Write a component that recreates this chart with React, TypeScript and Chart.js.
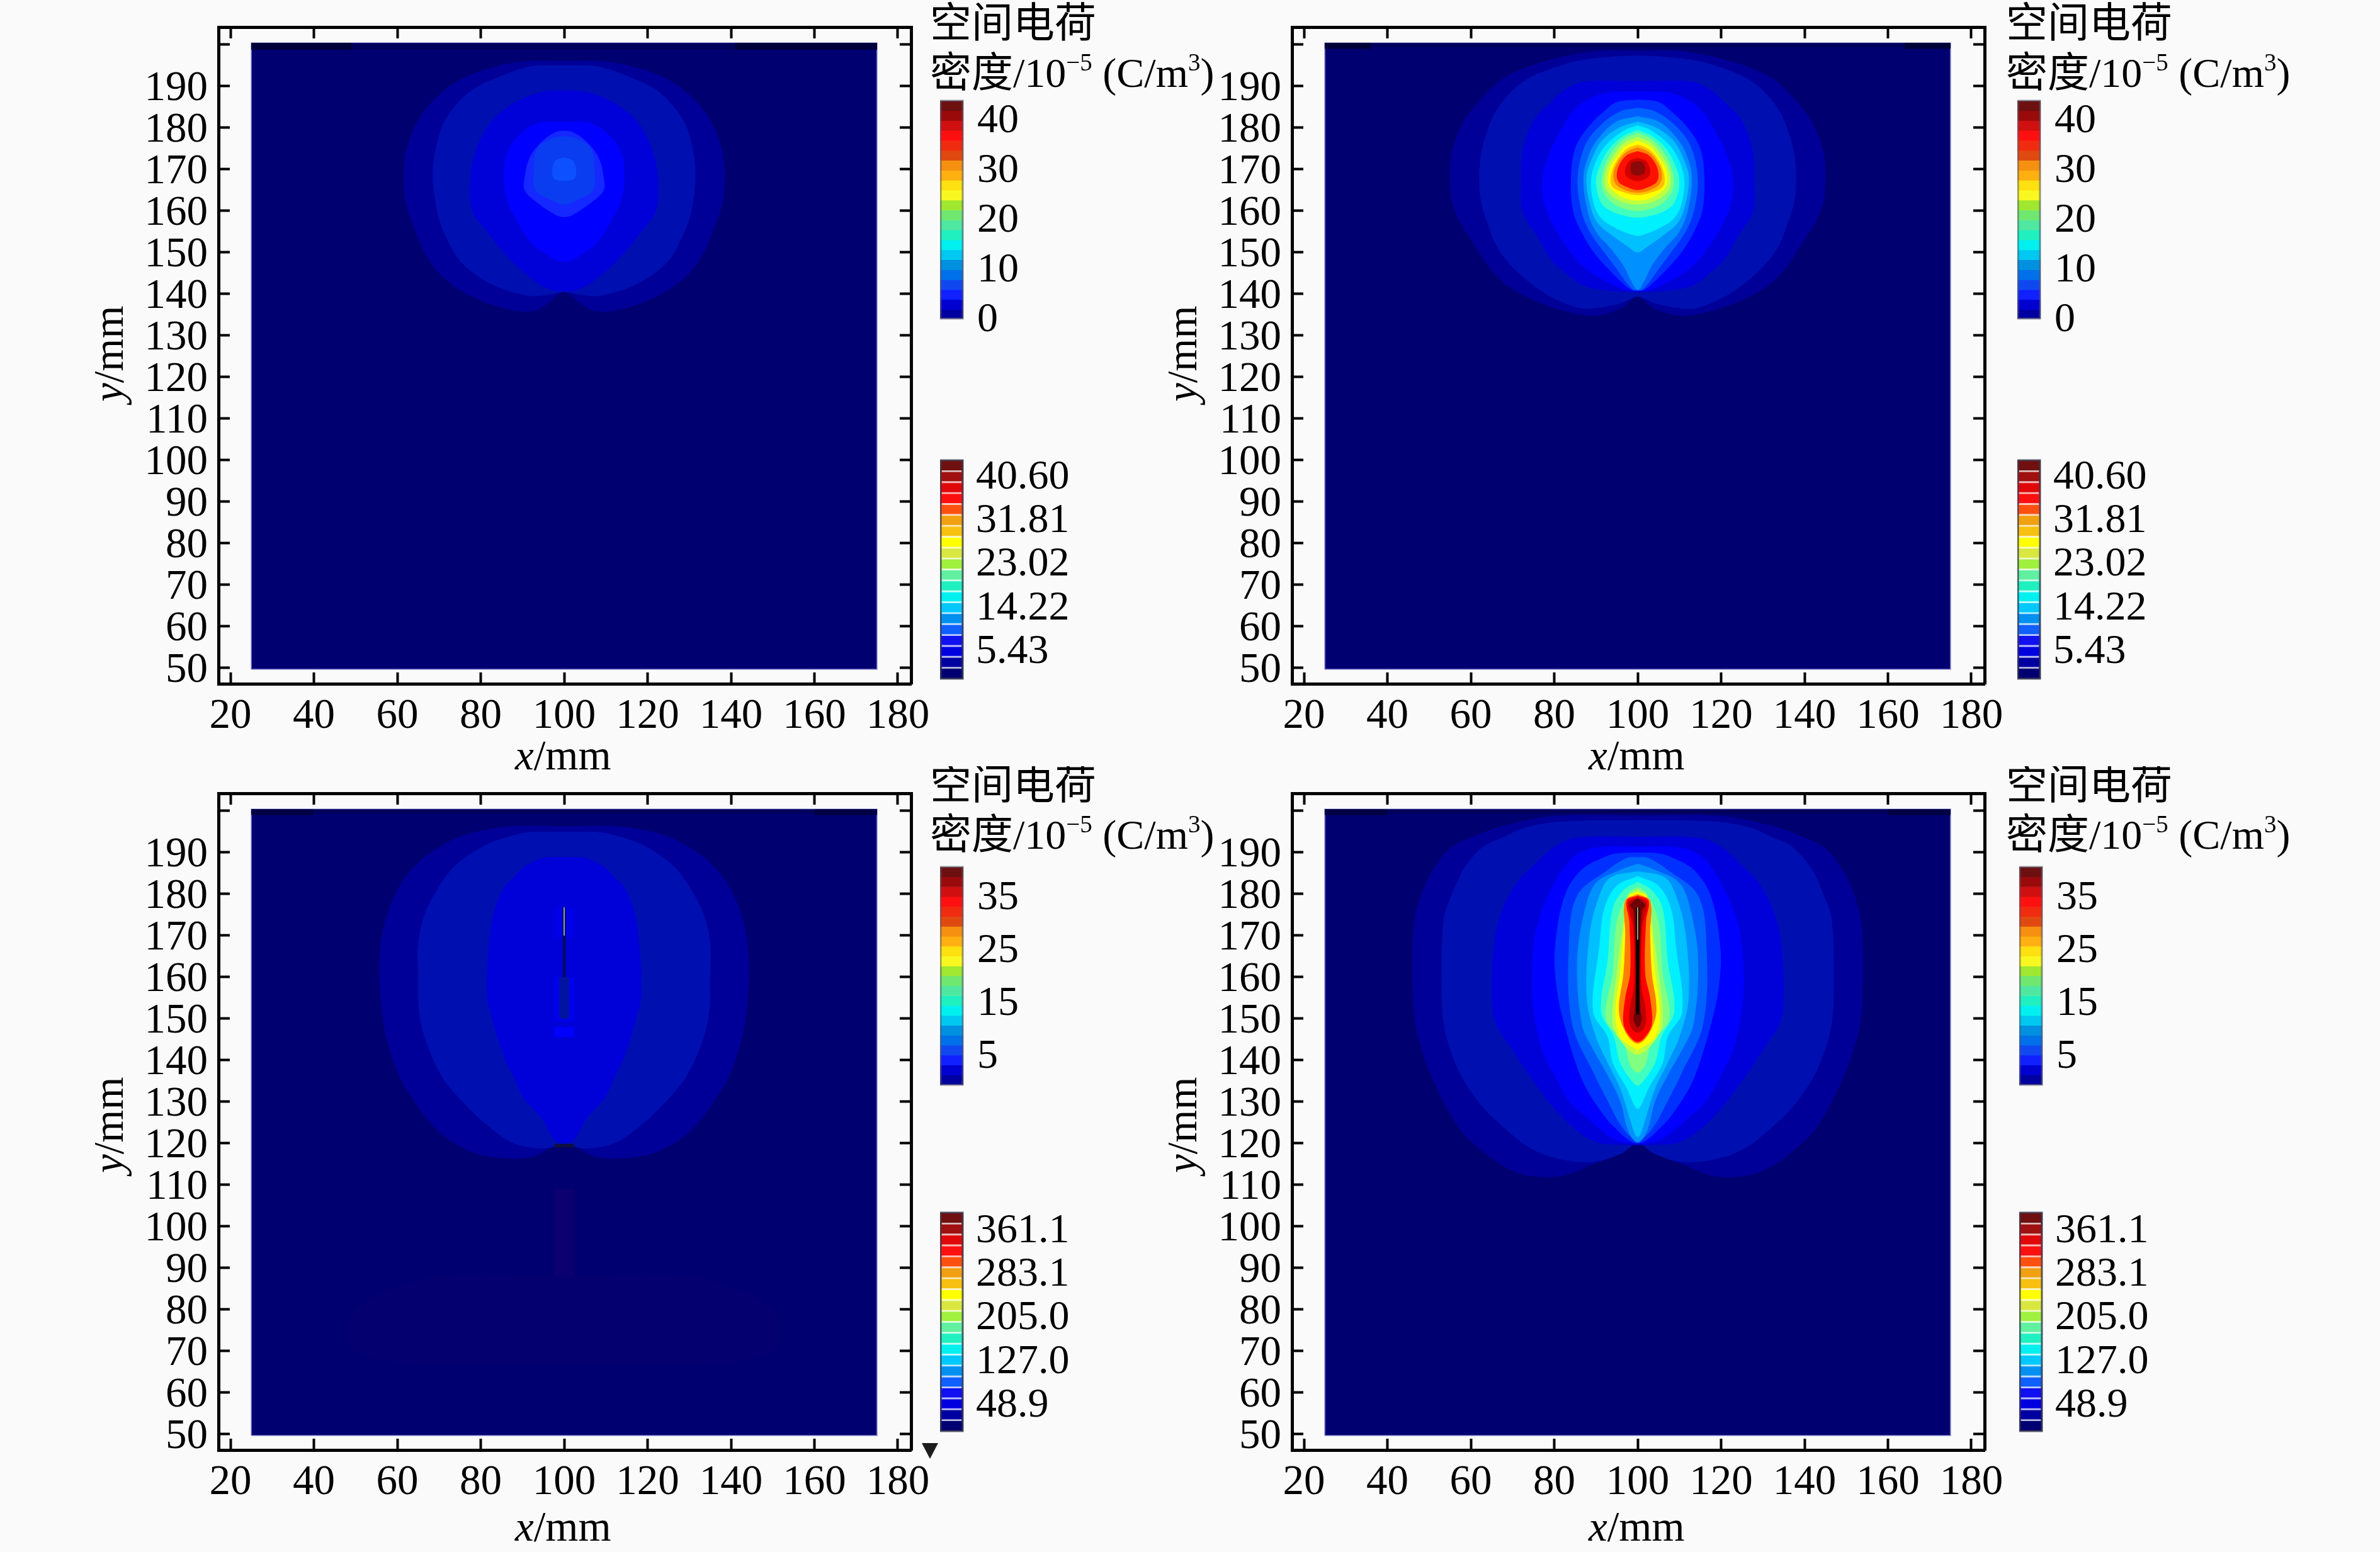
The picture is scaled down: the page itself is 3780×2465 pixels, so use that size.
import React, { useEffect, useRef } from "react";
import { Chart, registerables } from "chart.js";

Chart.register(...registerables);

type Ring = number[][];
const BG = "#fafafa";
const SERIF = '"Liberation Serif", "Times New Roman", serif';
const CJK = '"Liberation Serif", "Noto Sans CJK SC", serif';

const xTickValues = [20, 40, 60, 80, 100, 120, 140, 160, 180];
const yTickValues = [50, 60, 70, 80, 90, 100, 110, 120, 130, 140, 150, 160, 170, 180, 190, 200];
const yHiddenLabels = [200];
const fieldExtent = [25, 175, 49.7, 200.4];

// Contours: rows of [y mm, half width about x = 100 mm], top to bottom, outermost first.
const coolColors = ["#000098", "#000fb0", "#0000d8", "#0000ff"];

const p1Rings: Ring[] = [
  [[196.1,0],[196,10],[194,19],[191,26],[186,32],[181,35.5],[174,38],[168,38.5],[162,38],[156,36],[150,33.5],[145,30],[141,25],[138,19],[136,12],[136,7],[138,3.5],[140.5,0]],
  [[195,0],[194.8,8],[192.5,15],[189.5,21.5],[186,25.5],[181,29],[174,31],[168,31.5],[163,31],[158,30],[152,27.5],[148,25],[144.5,21],[141.5,15.5],[139.5,8],[140,3],[140.5,0]],
  [[189,0],[188.7,5],[186,12],[181.5,17.5],[175,21],[168,22.5],[160,22],[155,18.5],[150,14.5],[145.5,10],[141.5,4.5],[140.6,0]],
  [[181.5,0],[181.3,6],[179,10],[174.5,13.5],[168,14.5],[162,13.5],[157,11],[153,8.5],[150,5],[147.7,0]],
  [[179.3,0],[179,2],[177,5],[173,8.2],[168,9.5],[165,9.5],[162,6.5],[159,2],[158.5,0]],
  [[178,0],[177.5,3],[175,6.5],[170,7.3],[165,7],[162.8,3.5],[161.5,0]],
  [[173,0],[171.8,2.4],[168,2.6],[167.2,0]],
];
const p1Colors = [...coolColors, "#1428ff", "#0a3cf0", "#0c50ff"];

const p2Rings: Ring[] = [
  [[198.6,0],[198.4,11],[196.1,22],[193.6,29],[191,33.5],[186.5,38],[181,42],[174.5,44.5],[168,45],[162,44.5],[157,42.5],[152.7,39.7],[147.6,36.5],[143,32.5],[140,28],[137.5,22.5],[135.5,16],[134.8,10],[136.5,4],[139.3,0]],
  [[197.4,0],[197.2,5],[196.2,14],[194.5,20],[192,26],[189,30],[184,34],[179.4,36],[174,37.5],[168,38],[162,37.5],[157,36],[151,33.5],[146,29.5],[141,23.5],[138,18],[136.5,13],[137.5,5],[139.3,0.5],[139.4,0]],
  [[191.3,0],[191.1,13],[188.8,18],[186.5,20.5],[181.7,25],[174.4,27.6],[167,28],[159.8,27.6],[153.7,24],[148.6,21],[145.6,18],[142,13],[140.7,6],[140.5,0]],
  [[188.8,0],[188.6,7],[186.5,12.5],[184,15.5],[179.4,18.5],[174.4,21],[168,22.8],[162,22.5],[156,20],[152,17.5],[148,14.5],[145,11],[142.5,6.5],[141,3],[140.7,0]],
  [[186.8,0],[186.2,5],[184,8],[180,12],[175,15],[168,16],[160,15.5],[155,13.5],[150,10.5],[146,7],[142.5,3.5],[141,1.5],[140.8,0]],
  [[184.8,0],[184,4],[181,8.5],[176,12.5],[168,14.4],[160,13.5],[155,11.5],[150,8],[146,5],[142.5,2.5],[141,1],[140.9,0]],
  [[182.8,0],[181.5,5],[178,9],[174,11.5],[168,13],[160,12],[155,10],[151,6.5],[147,3.5],[143,1.5],[141,0]],
  [[181.5,0],[180,4.5],[177,8.5],[173,10.8],[168,12.3],[161,11.3],[157,9.5],[154,6],[151.5,2.5],[150,0]],
  [[180.6,0],[179.5,3],[176,7.5],[172,10],[167,11.2],[161,10.3],[158,8.5],[156,5.5],[154.5,2],[154,0]],
  [[179.5,0],[178,3.5],[175,6.8],[171,9],[167,10],[162,8.8],[160,6.5],[158.8,3],[158.4,0]],
  [[178.8,0],[177.5,3],[174.5,6],[170,8.2],[166,8.6],[163,7.2],[161,4.5],[160,0]],
  [[177.8,0],[176.5,3],[174,5.3],[170,7.5],[166,7.8],[163.5,6],[162,3.2],[161.5,0]],
  [[176.9,0],[175.5,3],[173,5],[170,6.8],[166.5,7],[164.5,5.5],[163,3],[162.5,0]],
  [[176,0],[175,2.5],[172.5,4.8],[169,6.3],[166,6.2],[164.5,3.5],[163.8,0]],
  [[175.3,0],[174.3,2.5],[172,4.6],[169,5.8],[166.5,5.3],[165,3],[164.4,0]],
  [[174.4,0],[173.5,2.5],[171.5,4.2],[169,5],[167,4.6],[165.7,2.5],[165,0]],
  [[172.8,0],[172,2],[170,3],[168.5,2.8],[167.5,1.5],[167.2,0]],
  [[172,0],[171.5,1.4],[170,1.7],[169,1.5],[168.5,0]],
];
const hotColors = ["#0030ff","#0060ff","#0090ff","#00c0ff","#00f0ff","#40ffc0","#80ff80","#c0ff40","#ffff00","#ffc000","#ff8000","#ff1000","#d00000","#8a0a0a"];
const p2Colors = [...coolColors, ...hotColors];

const p3Rings: Ring[] = [
  [[88,0],[88,30],[80,50],[70,50],[67,30],[67,0]],
  [[196.3,0],[196.2,14],[193.8,25],[190,32],[186,36.5],[181,40],[175,42.5],[168,44],[160,44.3],[150,43.5],[143,42],[136,39.5],[131,36.5],[126,33],[121.5,28.5],[118.5,23.5],[116.8,18],[116.6,8],[119,3],[120,0]],
  [[195,0],[194.8,9],[192.6,17],[190,22],[186.4,26.6],[181,30.5],[175,33.5],[168,35],[160,35],[152,34.8],[145.6,33.5],[136.4,29.5],[130.2,24.5],[124,18],[120,12],[118.8,5],[119.7,0]],
  [[188.9,0],[188.7,5],[186.4,9.8],[184,12],[181.5,14.5],[175,17],[168,18],[156,18.5],[150,17.3],[141,14.5],[135.7,12],[131,9.8],[128.3,7.4],[125.5,5],[120.9,2.4],[120,0]],
];
const p3Colors = ["#050070", "#000098", "#000fb0", "#0000d8"];

const p4Rings: Ring[] = [
  [[199,0],[198.8,20],[196.5,32],[194,39],[191,45],[186,49],[181,51.5],[174,53.5],[165,54],[150,53.5],[140,51],[134,48.5],[128,45.5],[122,41.5],[118,37],[115,33],[112.5,27.5],[112,19],[115,10.5],[116.8,6],[119,2.5],[120,0]],
  [[197.8,0],[197.5,18],[196,27],[193.8,32],[191.4,37],[186.4,41.5],[180,44.5],[174,46.5],[160,47],[148.7,46.5],[140,44],[134,41],[128,36.5],[122,30],[119,26],[116.5,20],[115.5,11],[117.5,4],[119.8,0.8],[119.9,0]],
  [[193.8,0],[193.5,15],[191.4,20],[186.4,25.5],[182,29.5],[174.7,33],[167.3,34.5],[155,35],[148.7,34],[143.2,30.5],[136.4,26],[130.2,21.5],[124,15.7],[120.3,10],[119.6,3],[119.6,0]],
  [[191.4,0],[191.2,10],[188.9,15.5],[182.7,20],[174.7,23.5],[167.3,25],[155,25.3],[142.6,23],[136.4,20],[130.2,16.5],[126.5,12.6],[121,5.7],[120,0]],
  [[190,0],[189.8,4.9],[188.9,8],[185.8,13.5],[179.6,17.5],[167.3,19.8],[158,19.5],[148.7,17.6],[136.4,13.8],[130.2,10.5],[124,5.7],[120,0]],
  [[188.9,0],[188.7,2.5],[185.8,7.2],[179.6,14.5],[167.3,16.5],[148.7,15.7],[136.4,10.3],[130.2,7.2],[124,3.8],[120.3,0.5],[120.2,0]],
  [[187.3,0],[185.8,4.2],[182.7,10],[176.5,12.6],[164.1,14.5],[148.7,13.4],[142.6,10.7],[136.4,7.2],[130.2,4.2],[122.8,2.2],[120.3,0]],
  [[185.5,0],[184,6.5],[179.6,9.2],[170.4,11.5],[154.9,12.2],[145.6,10],[139.4,7.2],[133.2,4.2],[127,2.2],[122.2,0.7],[121.5,0]],
  [[184.3,0],[182,5],[176.5,8],[167.3,9.2],[151.8,10.7],[145.6,7.2],[139.4,6],[133.2,2.6],[129.5,1],[128.3,0]],
  [[183,0],[180.9,3.4],[176.5,6],[164.1,7.2],[151.8,8.8],[145.6,5.7],[139.4,4.2],[134.5,1],[133.9,0]],
  [[181.8,0],[180.2,2.2],[173.4,5],[161,6],[149.9,7.6],[144.4,3.4],[138.8,1.8],[137,0]],
  [[181.2,0],[179,2.4],[170.4,3.8],[161,5],[148.7,6],[143.8,3.4],[141.3,0]],
  [[180.5,0],[179.6,2.2],[170.4,3.4],[161,4.2],[151.8,5.3],[145.6,4.2],[142.5,0.3],[141.9,0]],
  [[180,0],[178.4,3],[170.4,3],[161,3.4],[151.8,4.5],[146.2,2.6],[144,0]],
  [[179.6,0],[178.4,2.6],[173.4,2],[161,1.8],[154.9,3],[148.7,3.4],[145.6,1.8],[144.4,0]],
  [[179.3,0],[177.8,2.2],[172.2,1.1],[158,0.9],[151.8,2],[148,1.7],[146.6,0]],
  [[179,0],[177.4,1.8],[175.9,1],[161,0.5],[151.8,0.7],[149.9,1],[147.8,0]],
];
const p4Colors = [...coolColors, "#0030ff","#0060ff","#0090ff","#00c0ff","#00f0ff","#40ffc0","#80ff80","#c0ff40","#ffff00","#ff8000","#ff0000","#c00000","#700008"];

// Rectangles: [x0, x1, y0, y1]
const p1Strips = [[25,175,198.8,200.4],[25,49,198.8,200.4],[141,175,198.8,200.4]];
const p2Strips = [[25,175,199.4,200.4],[25,36,199,200.4],[164,175,199,200.4]];
const p3Strips = [[25,175,199.4,200.4],[25,40,199,200.4],[160,175,199,200.4],[97.6,102.4,74,109]];
const p4Strips = [[25,175,199.4,200.4],[25,40,199,200.4],[160,175,199,200.4]];
const p1StripColors = ["#00005c","#000038","#000038"];
const p2StripColors = ["#00005c","#000038","#000038"];
const p3StripColors = ["#00005c","#000044","#000044","#0c0070"];
const p4StripColors = ["#00005c","#000044","#000044"];
const p3Patches = [[97.6,102.4,145.6,148],[97.6,102.4,149.5,160],[97.6,102.4,169.5,176.8],[97.6,102.4,119,119.9]];
const p3PatchColors = ["#0000ff","#0000f0","#0000e8","#101040"];

// Electrode rods: [y0, y1, line width, colour]
const p3Rods: (number | string)[][] = [[150,160,16,"#0014a0"],[160,170,5,"#000a60"],[170,176.8,5,"#0a1030"],[170,176.8,2,"#7fa0d0"]];
const p4Rods: (number | string)[][] = [[151,176.8,5,"#050000"],[169,176.8,2,"#a09878"]];

// Colour bars
const barColors = ["#6e1010","#9a0a0a","#d01010","#ff1010","#f02c10","#e04a10","#f59010","#ffb010","#ffe010","#f8f820","#a0e830","#70e870","#50e8a0","#20f0c0","#00f0f0","#00c8f0","#0090e0","#0070e8","#1048f0","#1020ff","#0000d0","#0000a0"];
const barEdgesTop = [43.5,41.5,39.5,37.5,35.5,33.5,31.5,29.5,27.5,25.5,23.5,21.5,19.5,17.5,15.5,13.5,11.5,9.5,7.5,5.5,3.5,1.5,-0.3];
const barEdgesBottom = [40.3,38.43,36.56,34.69,32.82,30.95,29.08,27.21,25.34,23.47,21.6,19.73,17.86,15.99,14.12,12.25,10.38,8.51,6.64,4.77,2.9,1.03,-0.83];
const barTicksTop = [0, 10, 20, 30, 40];
const barTicksBottom = [5, 15, 25, 35];

const keyColors = ["#701010","#a01010","#e00808","#ff1010","#ff5010","#f0a010","#f8c010","#ffff00","#d8e840","#a0f040","#60f0a0","#20f0c0","#00f0f0","#00c8ff","#0090f0","#1060ff","#1010f0","#0000e0","#0000a0","#000070"];
const keyEdgesTop = [43.43,41.23,39.03,36.83,34.63,32.44,30.24,28.04,25.84,23.65,21.45,19.25,17.05,14.86,12.66,10.46,8.26,6.06,3.87,1.67,-0.53];
const keyEdgesBottom = [386.2,366.7,347.2,327.7,308.2,288.7,269.1,249.6,230.1,210.6,191.1,171.6,152.1,132.6,113.1,93.6,74,54.5,35,15.5,-4];
const keyTicksTop = [40.6, 31.81, 23.02, 14.22, 5.43];
const keyLabelsTop = ["40.60", "31.81", "23.02", "14.22", "5.43"];
const keyTicksBottom = [361.1, 283.1, 205.0, 127.0, 48.9];
const keyLabelsBottom = ["361.1", "283.1", "205.0", "127.0", "48.9"];

const ringPoints = (ring: Ring) => {
  const right = ring.map(([y, w]) => ({ x: 100 + w, y }));
  const left = ring.filter(([, w]) => w > 0).reverse().map(([y, w]) => ({ x: 100 - w, y }));
  return [...right, ...left, right[0]];
};
const rectPoints = ([a, b, c, d]: number[]) => [
  { x: a, y: c }, { x: b, y: c }, { x: b, y: d }, { x: a, y: d }, { x: a, y: c },
];
const shape = (data: any[], color: string, tension: number, extra: any = {}) => ({
  type: "line", data, fill: "shape", backgroundColor: color, borderWidth: 0, tension, pointRadius: 0, ...extra,
});

type Run = { t: string; f: string; up?: number };
function drawRuns(ctx: CanvasRenderingContext2D, x: number, y: number, runs: Run[]) {
  let cx = x;
  for (const r of runs) {
    ctx.font = r.f;
    ctx.fillText(r.t, cx, y - (r.up || 0));
    cx += ctx.measureText(r.t).width;
  }
}

function useChart(make: (c: HTMLCanvasElement) => Chart) {
  const ref = useRef<HTMLCanvasElement | null>(null);
  useEffect(() => {
    const chart = make(ref.current!);
    return () => chart.destroy();
  }, []);
  return ref;
}

const CW = 1860, CH = 1240;
const frame = { l: 347, r: 1447, t: 43, b: 1086 };
const xRange = [17.13, 183.17];
const yRange = [46.21, 204.24];
const Y_AXIS_W = 170, X_AXIS_H = 100;

const noPad = (s: any) => { s.paddingTop = 0; s.paddingBottom = 0; s.paddingLeft = 0; s.paddingRight = 0; };

function Field({ ox, oy, tdx, tdy, titleShift = 0, rings, colors, strips, stripColors, patches = [], patchColors = [], rods = [], marker = false }: any) {
  const left = ox + 100, top = oy;
  const ref = useChart((c) => {
    const datasets: any[] = [];
    rods.slice().reverse().forEach((r: any[]) => {
      datasets.push({ type: "line", data: [{ x: 100, y: r[0] }, { x: 100, y: r[1] }], borderColor: r[3], borderWidth: r[2], pointRadius: 0, fill: false, tension: 0 });
    });
    patches.forEach((p: number[], i: number) => datasets.push(shape(rectPoints(p), patchColors[i], 0)));
    rings.slice().reverse().forEach((r: Ring, i: number) => {
      datasets.push(shape(ringPoints(r), colors[rings.length - 1 - i], 0.35));
    });
    strips.slice().reverse().forEach((s: number[], i: number) => datasets.push(shape(rectPoints(s), stripColors[strips.length - 1 - i], 0)));
    datasets.push(shape(rectPoints(fieldExtent), "#000070", 0, { borderWidth: 2, borderColor: "rgba(130,130,210,0.7)" }));

    const grid = { drawOnChartArea: false, drawTicks: true, tickLength: -18, tickWidth: 4, tickColor: "#000" };
    const border = { display: true, width: 5, color: "#000" };
    const fitW = (w: number) => (s: any) => { s.width = w; noPad(s); };
    const fitH = (h: number) => (s: any) => { s.height = h; noPad(s); };
    const setX = (s: any) => { s.ticks = xTickValues.map((value) => ({ value })); };
    const setY = (s: any) => { s.ticks = yTickValues.map((value) => ({ value })); };
    const tickFont = { family: SERIF, size: 67 };

    const textPlugin = {
      id: "panelText",
      afterDraw(chart: any) {
        const ctx = chart.ctx as CanvasRenderingContext2D;
        ctx.save();
        ctx.translate(-left, -top);
        ctx.fillStyle = "#000";
        ctx.textBaseline = "alphabetic";
        ctx.textAlign = "left";
        const tx = 1477 + tdx, ty = tdy;
        drawRuns(ctx, tx, 59 + ty, [{ t: "空间电荷", f: `66px ${CJK}` }]);
        drawRuns(ctx, tx, 138 + ty, [
          { t: "密度", f: `66px ${CJK}` },
          { t: "/10", f: `66px ${SERIF}` },
          { t: "−5", f: `39px ${SERIF}`, up: 26 },
          { t: " (C/m", f: `66px ${SERIF}` },
          { t: "3", f: `39px ${SERIF}`, up: 26 },
          { t: ")", f: `66px ${SERIF}` },
        ]);
        drawRuns(ctx, 818 + ox, 1222 + oy + titleShift, [
          { t: "x", f: `italic 67px ${SERIF}` },
          { t: "/mm", f: `67px ${SERIF}` },
        ]);
        ctx.save();
        ctx.translate(195 + ox, 638 + oy + titleShift);
        ctx.rotate(-Math.PI / 2);
        drawRuns(ctx, 0, 0, [
          { t: "y", f: `italic 67px ${SERIF}` },
          { t: "/mm", f: `67px ${SERIF}` },
        ]);
        ctx.restore();
        if (marker) {
          ctx.fillStyle = "#1c1c1c";
          ctx.beginPath();
          ctx.moveTo(1464, 2292);
          ctx.lineTo(1490, 2292);
          ctx.lineTo(1477, 2317);
          ctx.closePath();
          ctx.fill();
        }
        ctx.restore();
      },
    };

    return new Chart(c, {
      type: "line",
      data: { datasets },
      plugins: [textPlugin],
      options: {
        responsive: false, animation: false, devicePixelRatio: 1, events: [],
        layout: { padding: { left: frame.l + ox - left - Y_AXIS_W, top: frame.t, right: CW - (frame.r + ox - left), bottom: CH - frame.b - X_AXIS_H } },
        plugins: { legend: { display: false }, tooltip: { enabled: false } },
        scales: {
          x: { type: "linear", position: "bottom", min: xRange[0], max: xRange[1], grid, border, afterFit: fitH(X_AXIS_H), afterBuildTicks: setX,
            ticks: { autoSkip: false, maxRotation: 0, color: "#000", font: tickFont, padding: 30 } },
          y: { type: "linear", position: "left", min: yRange[0], max: yRange[1], grid, border, afterFit: fitW(Y_AXIS_W), afterBuildTicks: setY,
            ticks: { autoSkip: false, color: "#000", font: tickFont, padding: 35, labelOffset: 4,
              callback: (v: any) => (yHiddenLabels.includes(v) ? "" : String(v)) } },
          xTop: { type: "linear", position: "top", min: xRange[0], max: xRange[1], grid, border, afterFit: fitH(0), afterBuildTicks: setX, ticks: { display: false } },
          yRight: { type: "linear", position: "right", min: yRange[0], max: yRange[1], grid, border, afterFit: fitW(0), afterBuildTicks: setY, ticks: { display: false } },
        },
      } as any,
    });
  });
  return <canvas ref={ref} width={CW} height={CH} style={{ position: "absolute", left, top, width: CW, height: CH }} />;
}

function ColorBar({ x, top, bottom, edges, colors, ticks, labels, separators = false, outline, labelOffset = 5 }: any) {
  const W = 320, M = 60, AXIS_W = 270;
  const H = bottom - top + 2 * M;
  const ref = useChart((c) => {
    const datasets: any[] = [];
    if (separators) {
      const half = (edges[0] - edges[edges.length - 1]) * 0.0042;
      edges.slice(1, -1).forEach((e: number) => {
        datasets.push({ data: [[e - half, e + half]], backgroundColor: "rgba(255,255,255,0.72)", grouped: false, barPercentage: 0.86, categoryPercentage: 1, borderWidth: 0 });
      });
    }
    colors.forEach((col: string, i: number) => {
      datasets.push({ data: [[edges[i + 1], edges[i]]], backgroundColor: col, grouped: false, barPercentage: 1, categoryPercentage: 1, borderWidth: 0 });
    });
    const outlinePlugin = {
      id: "barOutline",
      afterDraw(chart: any) {
        const { ctx, chartArea: a } = chart;
        ctx.save();
        ctx.strokeStyle = outline;
        ctx.lineWidth = 3;
        ctx.strokeRect(a.left + 1, a.top, a.right - a.left - 2, a.bottom - a.top);
        ctx.restore();
      },
    };
    return new Chart(c, {
      type: "bar",
      data: { labels: [""], datasets },
      plugins: [outlinePlugin],
      options: {
        responsive: false, animation: false, devicePixelRatio: 1, events: [],
        layout: { padding: { left: 0, top: M, right: W - 37 - AXIS_W, bottom: M } },
        plugins: { legend: { display: false }, tooltip: { enabled: false } },
        scales: {
          x: { display: false },
          y: {
            type: "linear", position: "right", min: edges[edges.length - 1], max: edges[0],
            grid: { display: false }, border: { display: false },
            afterFit: (s: any) => { s.width = AXIS_W; noPad(s); },
            afterBuildTicks: (s: any) => { s.ticks = ticks.map((value: number) => ({ value })); },
            ticks: {
              autoSkip: false, color: "#000", font: { family: SERIF, size: 66 }, padding: labels ? 12 : 14, labelOffset,
              callback: (v: any) => {
                const i = ticks.indexOf(v);
                return labels ? labels[i] : String(v);
              },
            },
          },
        },
      } as any,
    });
  });
  return <canvas ref={ref} width={W} height={H} style={{ position: "absolute", left: x, top: top - M, width: W, height: H }} />;
}

export default function App() {
  useEffect(() => {
    document.body.style.margin = "0";
    document.body.style.background = BG;
  }, []);
  const dark = "rgba(60,60,80,0.8)";
  const soft = "rgba(90,90,110,0.6)";
  const DX = 1705, DY = 1217, TX = 1709, BX = 1711, KY = 1195;
  return (
    <div style={{ position: "absolute", left: 0, top: 0, width: 3780, height: 2465, background: BG, overflow: "hidden" }}>
      <Field ox={0} oy={0} tdx={0} tdy={0} rings={p1Rings} colors={p1Colors} strips={p1Strips} stripColors={p1StripColors} />
      <Field ox={DX} oy={0} tdx={TX} tdy={0} rings={p2Rings} colors={p2Colors} strips={p2Strips} stripColors={p2StripColors} />
      <Field ox={0} oy={DY} tdx={0} tdy={1210} titleShift={8} rings={p3Rings} colors={p3Colors} strips={p3Strips} stripColors={p3StripColors} patches={p3Patches} patchColors={p3PatchColors} rods={p3Rods} marker />
      <Field ox={DX} oy={DY} tdx={TX} tdy={1210} titleShift={8} rings={p4Rings} colors={p4Colors} strips={p4Strips} stripColors={p4StripColors} rods={p4Rods} />

      <ColorBar x={1493} top={160} bottom={506} edges={barEdgesTop} colors={barColors} ticks={barTicksTop} outline={soft} />
      <ColorBar x={1493 + BX} top={160} bottom={506} edges={barEdgesTop} colors={barColors} ticks={barTicksTop} outline={soft} />
      <ColorBar x={1493} top={1377} bottom={1723} edges={barEdgesBottom} colors={barColors} ticks={barTicksBottom} outline={soft} />
      <ColorBar x={1493 + BX + 3} top={1377} bottom={1723} edges={barEdgesBottom} colors={barColors} ticks={barTicksBottom} outline={soft} />

      <ColorBar x={1493} top={731} bottom={1078} edges={keyEdgesTop} colors={keyColors} ticks={keyTicksTop} labels={keyLabelsTop} separators outline={dark} />
      <ColorBar x={1493 + BX} top={731} bottom={1078} edges={keyEdgesTop} colors={keyColors} ticks={keyTicksTop} labels={keyLabelsTop} separators outline={dark} />
      <ColorBar x={1493} top={731 + KY} bottom={1078 + KY} edges={keyEdgesBottom} colors={keyColors} ticks={keyTicksBottom} labels={keyLabelsBottom} separators labelOffset={7} outline={dark} />
      <ColorBar x={1493 + BX + 3} top={731 + KY} bottom={1078 + KY} edges={keyEdgesBottom} colors={keyColors} ticks={keyTicksBottom} labels={keyLabelsBottom} separators labelOffset={7} outline={dark} />
    </div>
  );
}
